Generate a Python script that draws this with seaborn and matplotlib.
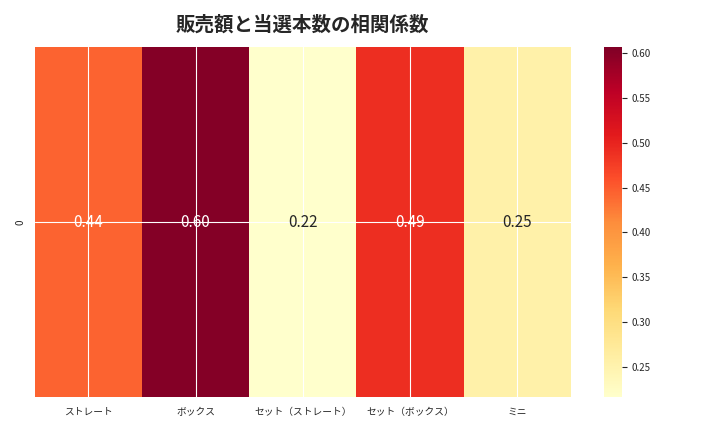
import numpy as np
import pandas as pd
import matplotlib
matplotlib.use("Agg")
import matplotlib.pyplot as plt
import seaborn as sns

# Correlation of sales with number of winning tickets
categories = ["ストレート", "ボックス", "セット（ストレート）", "セット（ボックス）", "ミニ"]
corr_values = [0.4437, 0.6034, 0.2163, 0.4902, 0.2543]

sns.set_style("whitegrid")
plt.rcParams["font.family"] = ["Noto Sans CJK JP", "DejaVu Sans"]

df = pd.DataFrame([corr_values], columns=categories)

fig, ax = plt.subplots(figsize=(7.2, 4.32), dpi=100)
sns.heatmap(df, annot=True, fmt=".2f", cmap="YlOrRd", ax=ax,
            vmin=0.216, vmax=0.607, annot_kws={"fontsize": 11})
ax.set_axisbelow(False)
ax.grid(True, color="white", linewidth=0.8)
ax.set_title("販売額と当選本数の相関係数", fontsize=14, fontweight="bold", pad=12)
ax.tick_params(axis="both", labelsize=7)
ax.tick_params(axis="x", labelrotation=0)
cbar = ax.collections[0].colorbar
cbar.ax.tick_params(labelsize=7)

plt.tight_layout()
plt.savefig("out.png", dpi=100)
